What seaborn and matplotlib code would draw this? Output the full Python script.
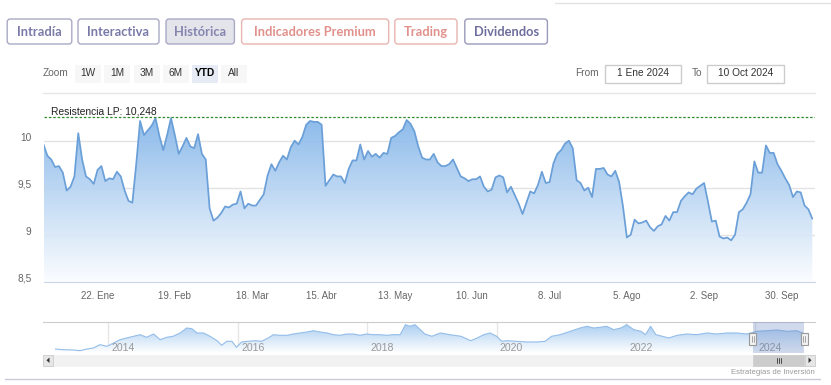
import numpy as np
import pandas as pd
import seaborn as sns
import matplotlib.pyplot as plt
from matplotlib.patches import FancyBboxPatch, Rectangle, Polygon
from matplotlib.colors import LinearSegmentedColormap

# ---- datos: cierre diario 2024 (sesiones hábiles) ----
precio = [
    9.96, 9.84, 9.80, 9.72, 9.73, 9.66, 9.47, 9.51, 9.62, 10.08,
    9.80, 9.62, 9.59, 9.54, 9.69, 9.73, 9.57, 9.60, 9.59, 9.67,
    9.62, 9.47, 9.36, 9.34, 9.75, 10.21, 10.06, 10.11, 10.16, 10.24,
    10.05, 9.90, 10.06, 10.24, 10.06, 9.86, 9.94, 10.03, 9.94, 9.92,
    10.07, 9.86, 9.80, 9.28, 9.15, 9.18, 9.23, 9.30, 9.29, 9.32,
    9.33, 9.46, 9.28, 9.33, 9.31, 9.31, 9.37, 9.43, 9.63, 9.75,
    9.68, 9.77, 9.84, 9.80, 9.93, 10.00, 9.96, 10.04, 10.17, 10.21,
    10.20, 10.20, 10.17, 9.52, 9.58, 9.64, 9.62, 9.62, 9.55, 9.70,
    9.79, 9.79, 9.96, 9.80, 9.89, 9.83, 9.86, 9.82, 9.87, 9.86,
    10.03, 10.05, 10.09, 10.12, 10.22, 10.18, 10.10, 9.94, 9.82, 9.80,
    9.80, 9.86, 9.77, 9.73, 9.73, 9.75, 9.80, 9.71, 9.62, 9.60,
    9.57, 9.59, 9.59, 9.62, 9.51, 9.46, 9.48, 9.61, 9.63, 9.61,
    9.45, 9.51, 9.42, 9.33, 9.22, 9.34, 9.46, 9.44, 9.53, 9.67,
    9.55, 9.56, 9.76, 9.86, 9.90, 9.97, 10.00, 9.92, 9.58, 9.55,
    9.47, 9.50, 9.40, 9.70, 9.70, 9.71, 9.64, 9.62, 9.68, 9.56,
    9.30, 8.97, 9.00, 9.16, 9.12, 9.13, 9.15, 9.08, 9.04, 9.09,
    9.11, 9.20, 9.15, 9.24, 9.24, 9.36, 9.41, 9.45, 9.43, 9.49,
    9.52, 9.55, 9.35, 9.14, 9.15, 8.98, 8.96, 8.97, 8.94, 9.00,
    9.24, 9.27, 9.34, 9.43, 9.78, 9.66, 9.66, 9.95, 9.87, 9.87,
    9.75, 9.68, 9.60, 9.53, 9.40, 9.46, 9.45, 9.31, 9.27, 9.17,
]
inicio, fin = '2024-01-02', '2024-10-10'
festivos = ['2024-03-29', '2024-04-01', '2024-05-01']

fechas_ticks = ['2024-01-22', '2024-02-19', '2024-03-18', '2024-04-15', '2024-05-13',
                '2024-06-10', '2024-07-08', '2024-08-05', '2024-09-02', '2024-09-30']
etiquetas_x = ['22. Ene', '19. Feb', '18. Mar', '15. Abr', '13. May',
               '10. Jun', '8. Jul', '5. Ago', '2. Sep', '30. Sep']
valores_y = [8.5, 9, 9.5, 10]
etiquetas_y = ['8,5', '9', '9,5', '10']
resistencia = 10.248

# navegador (histórico largo)
nav_anio = [
    2013.18, 2013.30, 2013.46, 2013.56, 2013.67, 2013.77, 2013.87, 2013.98, 2014.08, 2014.18,
    2014.28, 2014.39, 2014.49, 2014.59, 2014.70, 2014.80, 2014.90, 2015.00, 2015.11, 2015.21,
    2015.29, 2015.37, 2015.47, 2015.57, 2015.68, 2015.75, 2015.83, 2015.91, 2015.98, 2016.06,
    2016.16, 2016.27, 2016.37, 2016.47, 2016.55, 2016.65, 2016.76, 2016.86, 2016.96, 2017.07,
    2017.17, 2017.27, 2017.38, 2017.48, 2017.58, 2017.68, 2017.79, 2017.89, 2017.99, 2018.10,
    2018.20, 2018.30, 2018.40, 2018.51, 2018.59, 2018.66, 2018.74, 2018.82, 2018.89, 2019.00,
    2019.13, 2019.28, 2019.45, 2019.60, 2019.70, 2019.80, 2019.90, 2020.00, 2020.08, 2020.16,
    2020.31, 2020.47, 2020.62, 2020.75, 2020.85, 2020.98, 2021.14, 2021.29, 2021.40, 2021.50,
    2021.60, 2021.70, 2021.81, 2021.92, 2022.01, 2022.12, 2022.23, 2022.30, 2022.38, 2022.46,
    2022.56, 2022.66, 2022.79, 2022.94, 2023.09, 2023.25, 2023.40, 2023.56, 2023.71, 2023.87,
    2024.02, 2024.18, 2024.33, 2024.49, 2024.64, 2024.73,
]
nav_valor = [
    3.93, 3.70, 3.60, 3.37, 3.93, 4.27, 5.37, 4.83, 5.93, 7.03,
    7.60, 8.17, 8.70, 7.83, 8.93, 7.03, 7.83, 8.17, 9.27, 10.93,
    10.70, 9.27, 9.27, 8.17, 6.70, 5.17, 6.50, 6.50, 4.50, 6.27,
    6.50, 6.70, 6.50, 7.60, 8.70, 8.50, 8.50, 8.93, 9.27, 9.60,
    10.03, 9.60, 9.27, 8.70, 8.50, 8.93, 8.93, 8.50, 8.93, 8.70,
    8.70, 8.50, 8.70, 8.70, 12.03, 11.50, 12.03, 10.37, 8.93, 8.17,
    9.27, 8.70, 8.17, 6.70, 7.60, 8.70, 9.27, 8.17, 6.50, 6.70,
    6.50, 6.27, 6.27, 6.50, 8.17, 8.70, 9.83, 10.93, 11.50, 10.93,
    11.17, 11.50, 10.37, 10.93, 12.03, 10.37, 9.83, 8.70, 11.50, 8.70,
    8.17, 7.60, 8.50, 8.93, 8.70, 9.27, 8.93, 9.27, 9.27, 8.93,
    9.83, 10.03, 10.27, 9.83, 10.03, 9.27,
]
nav_ticks = [2014, 2016, 2018, 2020, 2022, 2024]
rango_ytd = (2023.96, 2024.75)

botones = ['Intradía', 'Interactiva', 'Histórica', 'Indicadores Premium', 'Trading', 'Dividendos']
zoom_botones = ['1W', '1M', '3M', '6M', 'YTD', 'All']

# ---- preparar ----
sesiones = pd.bdate_range(inicio, fin)
sesiones = sesiones[~sesiones.isin(pd.to_datetime(festivos))]
df = pd.DataFrame({'fecha': sesiones[:len(precio)], 'precio': precio})
df['pos'] = np.arange(len(df))
pos_ticks = [int(df.index[df['fecha'] == pd.Timestamp(f)][0]) for f in fechas_ticks]

sns.set_style('white')
plt.rcParams['font.family'] = ['Liberation Sans', 'DejaVu Sans']

W, H = 831, 385
fig = plt.figure(figsize=(W / 100, H / 100), dpi=100)


def caja(x0, y0, x1, y1):
    return [x0 / W, 1 - y1 / H, (x1 - x0) / W, (y1 - y0) / H]


def degradado(ax, x, y, c_arriba, c_abajo, y0, y1, alpha=1.0):
    cmap = LinearSegmentedColormap.from_list('g', [c_abajo, c_arriba])
    poly = ax.fill_between(x, y, y0, color='none', lw=0)
    g = np.linspace(0, 1, 256).reshape(-1, 1)
    im = ax.imshow(g, cmap=cmap, aspect='auto', origin='lower', alpha=alpha,
                   extent=[min(x), max(x), y0, y1], zorder=1)
    im.set_clip_path(poly.get_paths()[0], transform=ax.transData)


# ---- gráfico principal ----
ax = fig.add_axes(caja(43.5, 100, 815, 281.7))
ytop = 8.5 + 181.7 / 94
degradado(ax, df['pos'].values, df['precio'].values, '#73abe6', '#fbfdff', 8.5, ytop, alpha=0.9)
sns.lineplot(data=df, x='pos', y='precio', ax=ax, color='#6a9fd8', linewidth=1.25, zorder=3)
ax.axhline(resistencia, color='#2e8b2e', lw=0.9, ls=(0, (2, 1.5)), zorder=4)
ax.text(2.0, resistencia + 0.01, 'Resistencia LP: 10,248', va='bottom', ha='left',
        fontsize=7.4, color='#222222', zorder=5)
ax.set_xlim(0, 199.7)
ax.set_ylim(8.5, ytop)
ax.set_xticks(pos_ticks, etiquetas_x)
ax.set_yticks(valores_y, etiquetas_y)
ax.set_xlabel('')
ax.set_ylabel('')
ax.set_axisbelow(True)
ax.yaxis.grid(True, color='#e3e3e3', lw=1)
for s in ['top', 'right', 'left']:
    ax.spines[s].set_visible(False)
ax.spines['bottom'].set_color('#ccd6eb')
ax.spines['bottom'].set_zorder(6)
ax.tick_params(axis='x', length=5, width=1, color='#ccd6eb', labelsize=7, labelcolor='#666666', pad=2)
ax.tick_params(axis='y', length=0, labelsize=7.3, labelcolor='#666666', pad=8.6)
for lab in ax.get_yticklabels():
    lab.set_verticalalignment('baseline')
ax.patch.set_alpha(0)

# ---- navegador ----
nav = fig.add_axes(caja(43, 322, 815, 353))
nav_lo, nav_hi = 2.6, 12.93
degradado(nav, nav_anio, nav_valor, '#a6cbf0', '#ffffff', nav_lo, nav_hi)
sns.lineplot(x=nav_anio, y=nav_valor, ax=nav, color='#93bde9', linewidth=0.8, zorder=3)
for t in nav_ticks:
    nav.axvline(t, color='#e6e6e6', lw=1, zorder=0)
    nav.text(t + 0.05, 0.17, str(t), transform=nav.get_xaxis_transform(),
             fontsize=7.6, color='#999999', va='center', ha='left', zorder=4)
nav.axvspan(*rango_ytd, color=(102 / 255, 133 / 255, 194 / 255), alpha=0.3, lw=0, zorder=5)
nav.set_xlim(2012.99, 2024.92)
nav.set_ylim(nav_lo, nav_hi)
nav.set_xticks([])
nav.set_yticks([])
for s in ['bottom', 'right', 'left']:
    nav.spines[s].set_visible(False)
nav.spines['top'].set_color('#cccccc')
nav.patch.set_alpha(0)

# ---- capa de interfaz (px) ----
ui = fig.add_axes([0, 0, 1, 1])
ui.set_xlim(0, W)
ui.set_ylim(H, 0)
ui.axis('off')
ui.patch.set_alpha(0)

ui.plot([555, 831], [3, 3], color='#e2e2e2', lw=1)

col_txt = ['#7a7aa8', '#7a7aa8', '#8585b0', '#e0918b', '#e0918b', '#6e6e9e']
col_borde = ['#a9a9c6', '#a9a9c6', '#a9a9c6', '#e9b5b0', '#e9b5b0', '#9a9abb']
col_fondo = ['white', 'white', '#e4e4eb', 'white', 'white', 'white']
x_bot = [(7.2, 71.8), (78, 159), (166, 234.4), (241.6, 388.7), (394.8, 457), (464.8, 547.4)]
for lab, (x0, x1), ct, cb, cf in zip(botones, x_bot, col_txt, col_borde, col_fondo):
    ui.add_patch(FancyBboxPatch((x0, 19), x1 - x0, 25, boxstyle='round,pad=0,rounding_size=3',
                                fc=cf, ec=cb, lw=1))
    ui.text((x0 + x1) / 2, 31.8, lab, ha='center', va='center', fontsize=9.3,
            color=ct, family=['Lato', 'DejaVu Sans'], weight='bold')

# selector de rango
ui.text(43, 73.5, 'Zoom', ha='left', va='center', fontsize=7.3, color='#666666')
x_zoom = [87.5, 117, 146.5, 175.5, 205, 234]
for lab, xc in zip(zoom_botones, x_zoom):
    sel = lab == 'YTD'
    ui.add_patch(Rectangle((xc - 13, 64.5), 26, 18, fc='#e6ebf5' if sel else '#f7f7f7', ec='none'))
    ui.text(xc, 73.5, lab, ha='center', va='center', fontsize=7.3,
            color='#000000' if sel else '#333333', weight='bold' if sel else 'normal')
ui.text(599, 73.5, 'From', ha='right', va='center', fontsize=7.3, color='#666666')
ui.add_patch(Rectangle((605, 64.5), 76, 18, fc='white', ec='#cccccc', lw=1))
ui.text(643, 73.5, '1 Ene 2024', ha='center', va='center', fontsize=7.3, color='#333333')
ui.text(702, 73.5, 'To', ha='right', va='center', fontsize=7.3, color='#666666')
ui.add_patch(Rectangle((707, 64.5), 77, 18, fc='white', ec='#cccccc', lw=1))
ui.text(745.5, 73.5, '10 Oct 2024', ha='center', va='center', fontsize=7.3, color='#333333')
ui.plot([43, 815], [92.5, 92.5], color='#e6e6e6', lw=1)

# manijas del navegador
for xh in (752.7, 804):
    ui.add_patch(Rectangle((xh - 3.5, 333), 7, 12, fc='#f2f2f2', ec='#999999', lw=0.8))
    ui.plot([xh - 1, xh - 1], [336, 342], color='#999999', lw=0.6)
    ui.plot([xh + 1, xh + 1], [336, 342], color='#999999', lw=0.6)

# barra de desplazamiento
ui.add_patch(Rectangle((43, 354.5), 772, 11.5, fc='#f2f2f2', ec='#f2f2f2', lw=0.5))
ui.add_patch(Rectangle((752.7, 354.5), 51.3, 11.5, fc='#cccccc', ec='#cccccc', lw=0.5))
for xg in (776.5, 778.5, 780.5):
    ui.plot([xg, xg], [357.5, 363], color='#333333', lw=0.6)
for xb in (43, 805):
    ui.add_patch(Rectangle((xb, 354.5), 10, 11.5, fc='#e6e6e6', ec='#cccccc', lw=0.6))
ui.add_patch(Polygon([[49.5, 357.5], [49.5, 363], [46.5, 360.25]], closed=True, fc='#333333', ec='none'))
ui.add_patch(Polygon([[808.5, 357.5], [808.5, 363], [811.5, 360.25]], closed=True, fc='#333333', ec='none'))

ui.text(815, 372, 'Estrategias de Inversión', ha='right', va='center', fontsize=5.6, color='#999999')
ui.plot([5, 820], [378.5, 378.5], color='#c9cbd9', lw=1)

fig.savefig('out.png', dpi=100)
